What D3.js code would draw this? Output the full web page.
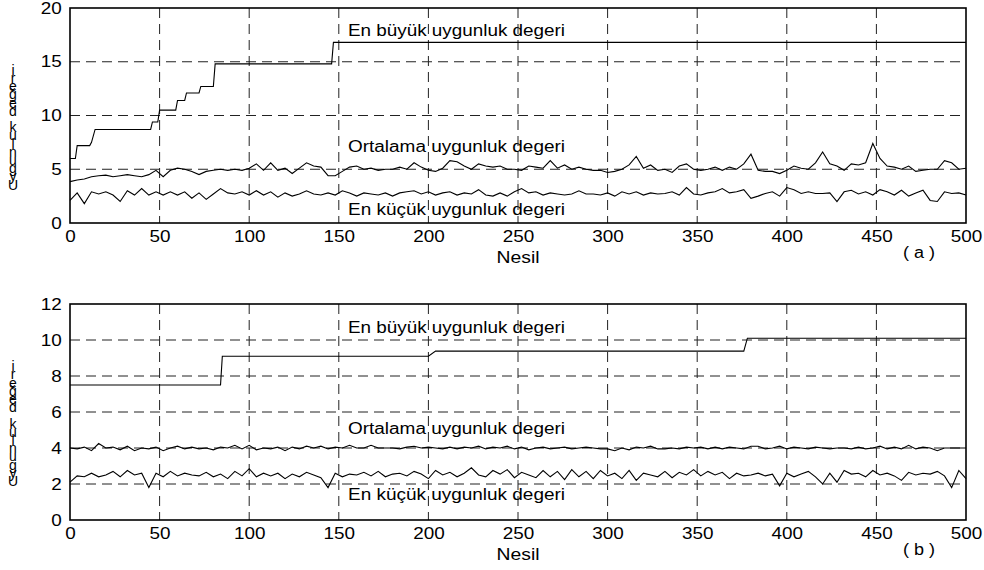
<!DOCTYPE html>
<html>
<head>
<meta charset="utf-8">
<script src="https://cdn.jsdelivr.net/npm/d3@7"></script>
<style>
  body { margin: 0; background: #fff; }
  text { font-family: "Liberation Sans", Arial, sans-serif; fill: #000; }
</style>
</head>
<body>
<div id="chart"></div>
<script>
// generations are sampled every 4 steps for the noisy series (0, 4, ... 500)
var sampleStep = 4;
var xTicks = [0, 50, 100, 150, 200, 250, 300, 350, 400, 450, 500];
var yTicksA = [0, 5, 10, 15, 20];
var yTicksB = [0, 2, 4, 6, 8, 10, 12];

var labelMax = "En büyük uygunluk degeri";
var labelMean = "Ortalama uygunluk degeri";
var labelMin = "En küçük uygunluk degeri";
var xLabel = "Nesil";
var yLabel = "Uygunluk değeri";

// panel (a) best fitness: change points [generation, value]
var maxGenA = [0, 3, 4, 11, 12, 14, 45, 46, 49, 50, 59, 60, 64, 65, 72, 73, 80, 81, 146, 147, 500];
var maxValA = [6.0, 6.0, 7.2, 7.2, 7.5, 8.7, 8.7, 9.4, 9.4, 10.5, 10.5, 11.4, 11.4, 12.1, 12.1, 12.7, 12.7, 14.8, 14.8, 16.8, 16.8];

var meanA = [3.85, 4.0, 4.1, 4.3, 4.4, 4.45, 4.3, 4.4, 4.5, 4.4, 4.3, 4.5, 4.9, 4.3, 4.9, 5.1,
  5.0, 4.8, 4.5, 4.8, 4.9, 5.0, 4.9, 5.0, 4.9, 5.1, 5.5, 4.9, 5.6, 4.9, 5.1, 4.6,
  5.1, 5.6, 5.3, 5.2, 4.4, 4.4, 4.8, 5.2, 5.3, 5.0, 5.1, 4.9, 5.0, 5.0, 5.2, 5.0,
  5.6, 5.2, 4.9, 4.8, 5.1, 5.8, 5.7, 5.3, 5.0, 5.5, 5.3, 5.2, 5.3, 5.0, 5.0, 4.9,
  5.3, 5.2, 5.1, 5.8, 5.1, 5.4, 5.0, 5.2, 5.0, 4.9, 4.9, 4.7, 4.8, 5.0, 5.4, 6.2,
  5.1, 5.4, 4.9, 5.0, 4.7, 5.3, 5.5, 5.0, 4.9, 5.0, 5.2, 4.9, 5.2, 5.0, 5.5, 6.4,
  4.9, 4.8, 4.8, 4.6, 4.9, 5.3, 5.1, 5.0, 5.6, 6.6, 5.5, 5.3, 4.9, 5.5, 5.4, 5.6,
  7.4, 6.0, 5.3, 5.2, 5.0, 5.3, 4.8, 4.9, 5.0, 5.0, 5.8, 5.6, 5.0, 5.1];

var minA = [2.1, 2.8, 1.8, 2.9, 2.7, 2.9, 2.6, 2.0, 3.0, 2.6, 3.2, 2.6, 2.9, 2.6, 2.9, 2.6,
  2.9, 2.3, 2.8, 2.2, 2.7, 3.2, 2.8, 2.7, 2.9, 2.6, 3.0, 2.6, 2.9, 2.4, 2.8, 2.5,
  2.7, 3.0, 2.7, 2.6, 2.8, 2.6, 3.0, 2.8, 2.5, 2.8, 2.7, 2.6, 2.8, 2.5, 2.8, 2.9,
  3.0, 2.7, 2.9, 2.6, 2.8, 2.9, 2.6, 2.8, 2.7, 3.1, 2.6, 2.5, 2.8, 2.5, 2.9, 3.2,
  2.8, 2.9, 2.6, 2.8, 2.7, 2.6, 2.7, 3.0, 2.7, 2.7, 2.6, 2.8, 2.5, 2.9, 2.7, 2.9,
  2.6, 2.8, 2.7, 2.75, 2.9, 2.6, 3.3, 2.7, 2.6, 2.8, 2.9, 3.2, 2.8, 2.9, 3.1, 2.3,
  2.5, 2.75, 2.9, 2.5, 3.3, 3.1, 2.75, 2.9, 2.75, 2.75, 2.8, 2.0, 2.9, 3.05, 2.7, 2.9,
  2.6, 3.1, 2.9, 2.6, 3.05, 2.5, 2.8, 3.05, 2.1, 2.0, 2.9, 2.75, 2.8, 2.6];

// panel (b)
var maxGenB = [0, 84, 85, 200, 204, 376, 378, 500];
var maxValB = [7.5, 7.5, 9.1, 9.1, 9.38, 9.38, 10.1, 10.1];

var meanB = [4.0, 3.95, 4.05, 3.85, 4.25, 4.0, 4.05, 3.9, 4.1, 3.85, 4.0, 3.95, 4.05, 3.85, 4.0, 4.1,
  3.95, 4.05, 3.95, 4.0, 3.9, 4.05, 4.0, 4.15, 3.95, 4.15, 3.9, 4.0, 3.95, 4.05, 3.85, 4.05,
  3.95, 4.1, 4.0, 4.1, 3.95, 4.05, 4.0, 4.15, 4.0, 4.0, 4.15, 4.0, 4.0, 4.0, 3.95, 4.05,
  4.1, 4.0, 4.05, 4.0, 3.95, 4.05, 3.95, 4.05, 4.0, 4.1, 3.95, 4.05, 4.0, 4.1, 3.95, 4.05,
  3.9, 4.0, 4.05, 3.95, 4.0, 4.05, 3.95, 4.0, 4.05, 4.0, 3.95, 3.95, 3.85, 4.0, 3.9, 4.05,
  4.0, 4.1, 3.95, 3.95, 4.0, 3.95, 4.05, 4.0, 4.05, 3.95, 4.05, 3.95, 4.05, 4.0, 3.95, 4.1,
  4.1, 3.95, 4.0, 4.1, 3.95, 4.05, 4.0, 3.95, 4.05, 4.0, 3.95, 4.0, 4.0, 3.95, 4.05, 3.95,
  4.0, 4.1, 3.95, 4.05, 3.95, 4.15, 3.95, 4.05, 4.0, 3.85, 4.0, 4.0, 4.0, 4.0];

var minB = [2.1, 2.45, 2.4, 2.6, 2.4, 2.5, 2.7, 2.4, 2.75, 2.5, 2.6, 1.8, 2.6, 2.4, 2.7, 2.45,
  2.6, 2.5, 2.45, 2.65, 2.4, 2.55, 2.3, 2.7, 2.45, 2.85, 2.4, 2.6, 2.45, 2.6, 2.3, 2.55,
  2.4, 2.65, 2.5, 2.35, 1.8, 2.6, 2.4, 2.55, 2.5, 2.65, 2.45, 2.7, 2.4, 2.55, 2.6, 2.45,
  2.7, 2.55, 2.3, 2.75, 2.5, 2.65, 2.4, 2.6, 2.9, 2.5, 2.4, 2.75, 2.55, 2.8, 2.35, 2.65,
  2.5, 2.35, 2.75, 2.4, 2.7, 2.25, 2.8, 2.4, 2.7, 2.3, 2.75, 2.45, 2.6, 2.3, 2.75, 2.2,
  2.6, 2.5, 2.4, 2.7, 2.35, 2.65, 2.5, 2.8, 2.45, 2.7, 2.5, 2.65, 2.3, 2.6, 2.45, 2.5,
  2.6, 2.45, 2.55, 1.9, 2.6, 2.4, 2.55, 2.7, 2.4, 2.0, 2.6, 2.1, 2.75, 2.55, 2.6, 2.4,
  2.75, 2.5, 2.6, 2.45, 2.2, 2.65, 2.5, 2.6, 2.55, 2.7, 2.45, 1.8, 2.75, 2.3];

var width = 984, height = 570;
var stretch = "scale(1.18,1)";

var svg = d3.select("#chart")
  .append("svg")
  .attr("width", width)
  .attr("height", height);

var x = d3.scaleLinear().domain([0, 500]).range([70, 966]);

function panel(opts) {
  var y = d3.scaleLinear().domain([0, opts.yMax]).range([opts.bottom, opts.top]);
  var g = svg.append("g");

  // dashed grid
  g.selectAll(".vgrid")
    .data(xTicks.slice(1, -1))
    .enter()
    .append("line")
    .attr("x1", d => x(d)).attr("x2", d => x(d))
    .attr("y1", opts.top).attr("y2", opts.bottom)
    .attr("stroke", "#222").attr("stroke-width", 1)
    .attr("stroke-dasharray", "10,6");
  g.selectAll(".hgrid")
    .data(opts.yTicks.slice(1, -1))
    .enter()
    .append("line")
    .attr("x1", x(0)).attr("x2", x(500))
    .attr("y1", d => y(d)).attr("y2", d => y(d))
    .attr("stroke", "#222").attr("stroke-width", 1)
    .attr("stroke-dasharray", "10,6");

  // axes (labels stretched sideways like the original)
  var xAxis = d3.axisBottom(x).tickValues(xTicks).tickSize(0).tickPadding(8);
  g.append("g")
    .attr("transform", "translate(0," + opts.bottom + ")")
    .call(xAxis)
    .call(a => a.select(".domain").remove())
    .selectAll("text")
    .attr("transform", stretch)
    .style("font-size", "16px");
  var yAxis = d3.axisLeft(y).tickValues(opts.yTicks).tickSize(0).tickPadding(7);
  g.append("g")
    .attr("transform", "translate(" + x(0) + ",0)")
    .call(yAxis)
    .call(a => a.select(".domain").remove())
    .selectAll("text")
    .attr("transform", stretch)
    .style("font-size", "16px");

  // series
  var line = d3.line().x(d => x(d[0])).y(d => y(d[1]));
  var maxPts = opts.maxGen.map((gen, i) => [gen, opts.maxVal[i]]);
  var meanPts = opts.mean.map((v, i) => [i * sampleStep, v]);
  var minPts = opts.min.map((v, i) => [i * sampleStep, v]);
  [maxPts, meanPts, minPts].forEach(function (pts) {
    g.append("path")
      .attr("d", line(pts))
      .attr("fill", "none")
      .attr("stroke", "#000")
      .attr("stroke-width", 1.1);
  });

  // box
  g.append("rect")
    .attr("x", x(0)).attr("y", opts.top)
    .attr("width", x(500) - x(0)).attr("height", opts.bottom - opts.top)
    .attr("fill", "none").attr("stroke", "#000").attr("stroke-width", 1.6);

  // annotations
  [[labelMax, opts.maxLabelY], [labelMean, opts.meanLabelY], [labelMin, opts.minLabelY]].forEach(function (t) {
    g.append("text")
      .attr("x", 348).attr("y", t[1])
      .attr("textLength", 217)
      .attr("lengthAdjust", "spacingAndGlyphs")
      .style("font-size", "16px")
      .text(t[0]);
  });

  g.append("text")
    .attr("x", x(250)).attr("y", opts.bottom + 40)
    .attr("text-anchor", "middle")
    .attr("textLength", 43)
    .attr("lengthAdjust", "spacingAndGlyphs")
    .style("font-size", "16px")
    .text(xLabel);
  g.append("text")
    .attr("x", 903).attr("y", opts.bottom + 35)
    .attr("textLength", 32)
    .attr("lengthAdjust", "spacingAndGlyphs")
    .style("font-size", "16px")
    .text(opts.tag);

  // y label: characters piled upwards in one text element
  var chars = yLabel.split("");
  var base = (opts.top + opts.bottom) / 2 + 74;
  var ylab = g.append("text")
    .attr("text-anchor", "middle")
    .style("font-size", "14px");
  ylab.selectAll("tspan")
    .data(chars)
    .enter()
    .append("tspan")
    .attr("x", 13)
    .attr("y", (d, i) => base - i * 8.2)
    .text(d => d);
}

panel({ top: 8, bottom: 223, yMax: 20, yTicks: yTicksA, maxGen: maxGenA, maxVal: maxValA,
  mean: meanA, min: minA, maxLabelY: 36, meanLabelY: 152, minLabelY: 215, tag: "( a )" });
panel({ top: 304, bottom: 520, yMax: 12, yTicks: yTicksB, maxGen: maxGenB, maxVal: maxValB,
  mean: meanB, min: minB, maxLabelY: 333, meanLabelY: 434, minLabelY: 500, tag: "( b )" });
</script>
</body>
</html>
